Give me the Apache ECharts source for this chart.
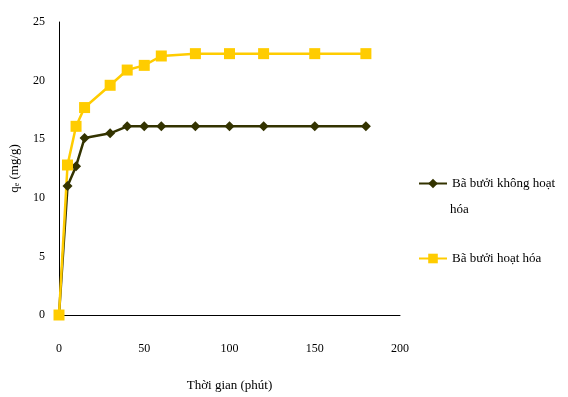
<!DOCTYPE html>
<html><head><meta charset="utf-8">
<script src="https://cdn.jsdelivr.net/npm/echarts@6/dist/echarts.min.js"></script>
<style>html,body{margin:0;padding:0;background:#fff}#c{width:568px;height:397px}</style>
</head><body><div id="c"></div>
<script>
const times = [0, 5, 10, 15, 30, 40, 50, 60, 80, 100, 120, 150, 180];
const seriesNames = ["Bã bưởi không hoạt hóa", "Bã bưởi hoạt hóa"];
const unactivated = [0, 11.0, 12.7, 15.1, 15.5, 16.1, 16.1, 16.1, 16.1, 16.1, 16.1, 16.1, 16.1];
const activated = [0, 12.8, 16.1, 17.7, 19.6, 20.9, 21.3, 22.1, 22.3, 22.3, 22.3, 22.3, 22.3];
const xTicks = [0, 50, 100, 150, 200];
const yTicks = [0, 5, 10, 15, 20, 25];

const font = "Liberation Serif";
const legendText = {fontFamily: font, fontSize: 13, color: '#000'};
const chart = echarts.init(document.getElementById('c'));
chart.setOption({
  animation: false,
  textStyle: {fontFamily: font},
  grid: {left: 59, right: 168, top: 22, bottom: 81},
  legend: [
    {
      orient: 'vertical', left: 418, top: 177, padding: 0, itemWidth: 28, itemHeight: 12, itemGap: 0,
      textStyle: legendText,
      formatter: function () { return 'Bã bưởi không hoạt'; },
      data: [seriesNames[0]]
    },
    {
      orient: 'vertical', left: 418, top: 252, padding: 0, itemWidth: 28, itemHeight: 12, itemGap: 0,
      textStyle: legendText,
      data: [seriesNames[1]]
    }
  ],
  graphic: [{
    type: 'text', left: 450, top: 203,
    style: {text: 'hóa', font: '13px "Liberation Serif"', fill: '#000'}
  }],
  xAxis: {
    type: 'value', min: xTicks[0], max: xTicks[xTicks.length - 1], interval: 50,
    name: 'Thời gian (phút)', nameLocation: 'middle', nameGap: 64,
    nameTextStyle: {fontFamily: font, fontSize: 13, color: '#000'},
    axisLine: {lineStyle: {color: '#000', width: 1}},
    axisTick: {show: false},
    axisLabel: {color: '#000', fontSize: 12, margin: 28, fontFamily: font},
    splitLine: {show: false}
  },
  yAxis: {
    type: 'value', min: yTicks[0], max: yTicks[yTicks.length - 1], interval: 5,
    name: '{q|q}{e|e} (mg/g)', nameLocation: 'middle', nameGap: 38,
    nameTextStyle: {fontFamily: font, fontSize: 13, color: '#000',
      rich: {q: {fontFamily: font, fontSize: 13}, e: {fontFamily: font, fontSize: 8, verticalAlign: 'bottom'}}},
    axisLine: {show: true, lineStyle: {color: '#000', width: 1}},
    axisTick: {show: false},
    axisLabel: {color: '#000', fontSize: 12, margin: 14, fontFamily: font},
    splitLine: {show: false}
  },
  series: [
    {
      name: seriesNames[0], type: 'line',
      data: times.map((t, i) => [t, unactivated[i]]),
      symbol: 'diamond', symbolSize: 10,
      lineStyle: {color: '#333300', width: 2.5},
      itemStyle: {color: '#333300'}
    },
    {
      name: seriesNames[1], type: 'line',
      data: times.map((t, i) => [t, activated[i]]),
      symbol: 'rect', symbolSize: 11,
      lineStyle: {color: '#FFCC00', width: 2.5},
      itemStyle: {color: '#FFCC00'}
    }
  ]
});
</script></body></html>
